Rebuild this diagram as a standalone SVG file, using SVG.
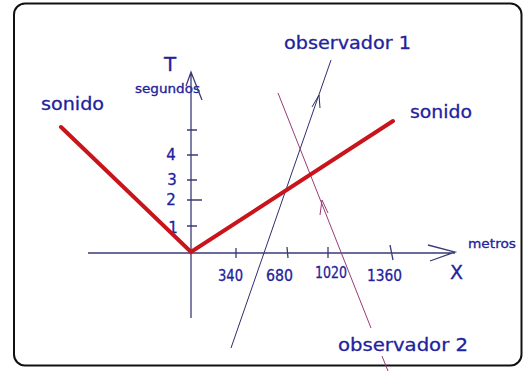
<svg xmlns="http://www.w3.org/2000/svg" width="525" height="371" viewBox="0 0 525 371">
<style>
text{font-family:"DejaVu Sans","Liberation Sans",sans-serif;fill:#22229c;stroke:#22229c;stroke-width:0.3}
.ax{stroke:#3b3b78;stroke-width:1.3;fill:none}
.red{stroke:#c8141a;stroke-width:4;fill:none;stroke-linecap:round}
.o1{stroke:#2e2e6e;stroke-width:1;fill:none}
.o2{stroke:#9a3a7a;stroke-width:1;fill:none}
</style>
<rect width="525" height="371" fill="#fff"/>
<rect x="14" y="3.5" width="507.5" height="362" rx="11" fill="#fff" stroke="#111" stroke-width="2"/>
<g id="labels">
<text x="170" y="71" font-size="20" text-anchor="middle">T</text>
<text x="135" y="93" font-size="11.5" textLength="65" lengthAdjust="spacingAndGlyphs">segundos</text>
<text x="171" y="160" font-size="15" text-anchor="middle">4</text>
<text x="172" y="185" font-size="15" text-anchor="middle">3</text>
<text x="171" y="205" font-size="15" text-anchor="middle">2</text>
<text x="173" y="233" font-size="15" text-anchor="middle">1</text>
<text x="218" y="281" font-size="15" textLength="25" lengthAdjust="spacingAndGlyphs">340</text>
<text x="266" y="281" font-size="15" textLength="27" lengthAdjust="spacingAndGlyphs">680</text>
<text x="315" y="278" font-size="15" textLength="32" lengthAdjust="spacingAndGlyphs">1020</text>
<text x="367" y="281" font-size="15" textLength="35" lengthAdjust="spacingAndGlyphs">1360</text>
<text x="456.5" y="279" font-size="19" text-anchor="middle">X</text>
<text x="468" y="248" font-size="13" textLength="48" lengthAdjust="spacingAndGlyphs">metros</text>
<text x="41" y="110" font-size="18" textLength="63" lengthAdjust="spacingAndGlyphs">sonido</text>
<text x="410" y="118" font-size="18" textLength="62" lengthAdjust="spacingAndGlyphs">sonido</text>
<text x="284" y="49" font-size="18" textLength="127" lengthAdjust="spacingAndGlyphs">observador 1</text>
<text x="338" y="351" font-size="18" textLength="130" lengthAdjust="spacingAndGlyphs">observador 2</text>
</g>
<g id="connectors">
<g id="axes">
<path class="ax" d="M191 72V318M186 86L191 72L202 100"/>
<path class="ax" d="M88 253H455M428 245L455 252L430 261"/>
<path class="ax" d="M187 130H197M187 155H198M187 180H197M187 200H202M187 226H197"/>
<path class="ax" d="M236 248V258M287 247L288 258M328 247V258M390 245L393 260"/>
</g>
<g id="observador1-line">
<path class="o1" d="M231 348L331 60M312 107L319 95L320 108"/>
</g>
<g id="observador2-line">
<path class="o2" d="M278 93L371 328M382 356L388 371M320 215L322 200L328 213"/>
</g>
<g id="sonido-lines">
<path class="red" d="M61 127L191 252L393 121"/>
</g>
</g>
</svg>
